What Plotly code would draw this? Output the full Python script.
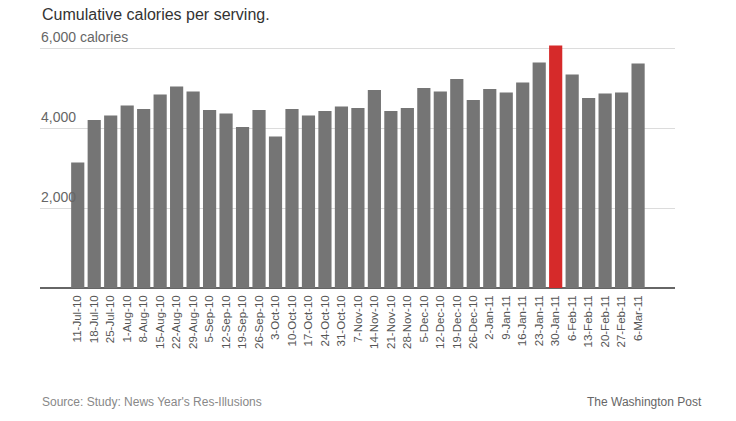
import plotly.graph_objects as go

categories = ["11-Jul-10", "18-Jul-10", "25-Jul-10", "1-Aug-10", "8-Aug-10", "15-Aug-10",
              "22-Aug-10", "29-Aug-10", "5-Sep-10", "12-Sep-10", "19-Sep-10", "26-Sep-10",
              "3-Oct-10", "10-Oct-10", "17-Oct-10", "24-Oct-10", "31-Oct-10", "7-Nov-10",
              "14-Nov-10", "21-Nov-10", "28-Nov-10", "5-Dec-10", "12-Dec-10", "19-Dec-10",
              "26-Dec-10", "2-Jan-11", "9-Jan-11", "16-Jan-11", "23-Jan-11", "30-Jan-11",
              "6-Feb-11", "13-Feb-11", "20-Feb-11", "27-Feb-11", "6-Mar-11"]
calories = [3140, 4200, 4310, 4560, 4475, 4840, 5035, 4915, 4450, 4365, 4025, 4450,
            3785, 4475, 4310, 4425, 4535, 4500, 4950, 4425, 4500, 5000, 4915, 5225,
            4700, 4975, 4890, 5140, 5640, 6065, 5340, 4750, 4865, 4890, 5615]
highlight = "30-Jan-11"

tick_vals = [2000, 4000, 6000]
tick_text = ["2,000", "4,000", "6,000 calories"]

colors = ["#d62a2a" if c == highlight else "#757575" for c in categories]

fig = go.Figure(go.Bar(x=categories, y=calories, marker=dict(color=colors, line=dict(width=0)),
                       hoverinfo="x+y"))

# plot area: x 40..675, y 40..288
pw, ph = 736 - 40 - 61, 421 - 40 - 133
def px(x):
    return (x - 40) / pw
def py(y):
    return (288 - y) / ph

annotations = [
    dict(text="Cumulative calories per serving.", x=px(40), y=py(15), xref="paper", yref="paper",
         showarrow=False, xanchor="left", yanchor="middle",
         font=dict(size=16, color="#333")),
    dict(text="Source: Study: News Year's Res-Illusions", x=px(40), y=py(402),
         xref="paper", yref="paper",
         showarrow=False, xanchor="left", yanchor="middle",
         font=dict(size=12, color="#888")),
    dict(text="The Washington Post", x=px(704), y=py(402), xref="paper", yref="paper",
         showarrow=False, xanchor="right", yanchor="middle",
         font=dict(size=12, color="#666")),
]
# y-axis labels sitting just above their gridlines
for v, t in zip(tick_vals, tick_text):
    annotations.append(dict(text=t, x=px(39), y=v, xref="paper", yref="y",
                            showarrow=False, xanchor="left", yanchor="bottom", yshift=1,
                            font=dict(size=14, color="#666")))

fig.update_layout(
    width=736, height=421,
    margin=dict(l=40, r=61, t=40, b=133),
    paper_bgcolor="white", plot_bgcolor="white",
    bargap=0.2,
    showlegend=False,
    font=dict(family="Liberation Sans, Arial, sans-serif", color="#666"),
    xaxis=dict(
        type="category", range=[-2.29, 36.24],
        tickmode="array", tickvals=categories, ticktext=categories,
        tickangle=-90, tickfont=dict(size=11.5, color="#555"),
        showgrid=False, ticks="", ticklabelstandoff=4,
        showline=False,
    ),
    yaxis=dict(
        range=[0, 6200], tickvals=tick_vals, showticklabels=False,
        showgrid=True, gridcolor="#dcdcdc", gridwidth=1,
        zeroline=True, zerolinecolor="#666", zerolinewidth=1.5,
        ticks="", showline=False,
    ),
    annotations=annotations,
)

fig.write_html("out.html", post_script="document.body.style.margin='0';",
               config={"displayModeBar": False})
